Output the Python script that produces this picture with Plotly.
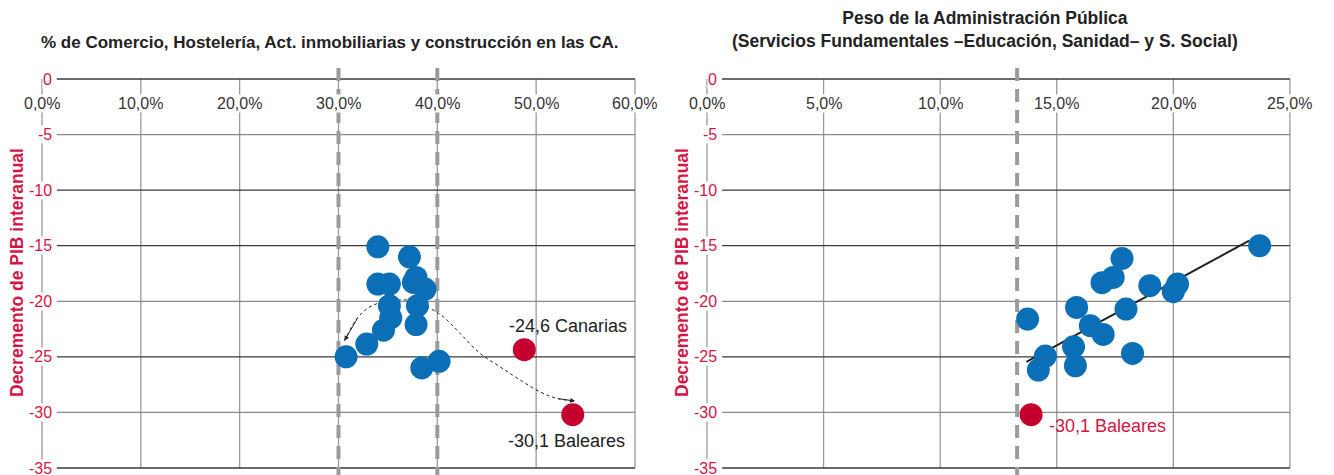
import numpy as np
import plotly.graph_objects as go

# ---------------- data ----------------
# Left chart: share of trade, hospitality, real estate & construction (%) vs GDP drop
left_x = [33.98, 37.18, 33.98, 35.15, 37.85, 37.58, 38.76, 35.15, 37.99,
          35.29, 34.55, 37.85, 32.86, 30.77, 38.43, 40.18]
left_y = [-15.1, -16.0, -18.45, -18.45, -17.85, -18.3, -18.9, -20.4, -20.4,
          -21.5, -22.6, -22.1, -23.85, -25.0, -26.0, -25.4]
left_red_names = ["-24,6 Canarias", "-30,1 Baleares"]
left_red_x = [48.8, 53.7]
left_red_y = [-24.35, -30.2]

# Right chart: weight of public administration (%) vs GDP drop
right_x = [23.7, 17.8, 17.42, 16.94, 18.99, 20.18, 20.0, 15.85, 17.97, 13.75,
           16.44, 16.99, 14.51, 15.72, 18.25, 14.21, 15.8]
right_y = [-15.0, -16.14, -17.85, -18.33, -18.6, -18.45, -19.14, -20.55, -20.7,
           -21.6, -22.2, -22.98, -24.93, -24.1, -24.69, -26.19, -25.8]
right_red_names = ["-30,1 Baleares"]
right_red_x = [13.9]
right_red_y = [-30.2]

left_xticks = [0, 10, 20, 30, 40, 50, 60]
right_xticks = [0, 5, 10, 15, 20, 25]
left_xticklabels = ["0,0%", "10,0%", "20,0%", "30,0%", "40,0%", "50,0%", "60,0%"]
right_xticklabels = ["0,0%", "5,0%", "10,0%", "15,0%", "20,0%", "25,0%"]
yticks = [0, -5, -10, -15, -20, -25, -30, -35]
left_ref_lines = [30, 40]
right_ref_lines = [13.3]
trend_extent = [13.7, 23.25]

# dotted curved arrow (annotation path) in left chart
arrow_path_x = [30.6, 32.0, 33.53, 35.9, 37.58, 39.27, 40.62, 42.3, 44.33,
                46.36, 48.38, 50.4, 52.1, 53.95]
arrow_path_y = [-23.55, -21.4, -20.34, -19.9, -19.96, -20.64, -21.4, -22.89,
                -24.69, -25.9, -27.09, -28.15, -28.74, -28.98]

# ---------------- styles ----------------
BLUE = "#0b6fb7"
RED_DOT = "#c5002e"
RED_TXT = "#d31645"
DARK = "#222222"
GRID_V = "#9a9a9a"
FONT = "Liberation Sans"

W, H = 1334, 475
half = 667 / W
fig = go.Figure()

y_range = [-35.63, 7.108]
fig.update_layout(
    width=W, height=H, margin=dict(l=0, r=0, t=0, b=0),
    paper_bgcolor="white", plot_bgcolor="white", showlegend=False,
    xaxis=dict(domain=[0, half], range=[-4.25, 63.24], visible=False),
    yaxis=dict(domain=[0, 1], range=y_range, visible=False),
    xaxis2=dict(domain=[half, 1], range=[-1.715, 26.89], visible=False),
    yaxis2=dict(domain=[0, 1], range=y_range, visible=False, anchor="x2"),
    font=dict(family=FONT),
)

shapes = []
annotations = []

def grid(xref, yref, xticks, xmax, ref_lines, xstart):
    for t in xticks:
        shapes.append(dict(type="line", xref=xref, yref=yref, x0=t, x1=t, y0=0, y1=-35,
                           line=dict(color=GRID_V, width=1.3), layer="below"))
    for v in yticks:
        col = "#8a8a8a" if v in (-5, -20, -30) else "#3a3a3a"
        shapes.append(dict(type="line", xref=xref, yref=yref, x0=xstart, x1=xmax, y0=v, y1=v,
                           line=dict(color=col, width=1.3), layer="below"))
    for r in ref_lines:
        shapes.append(dict(type="line", xref=xref, yref=yref, x0=r, x1=r, y0=1.0, y1=-36,
                           line=dict(color="#9b9b9b", width=4, dash="13px,8px"), layer="below"))

grid("x", "y", left_xticks, 60, left_ref_lines, 1.5)
grid("x2", "y2", right_xticks, 25, right_ref_lines, 0.65)

def ticklabels(xref, yref, xticks, xlabels):
    for t, lab in zip(xticks, xlabels):
        annotations.append(dict(xref=xref, yref=yref, x=t, y=-2.16, text=lab, showarrow=False,
                                xanchor="center", yanchor="middle", bgcolor="white",
                                borderpad=0, font=dict(size=16, color="#333333", family=FONT)))
    for v in yticks:
        annotations.append(dict(xref=xref, yref=yref, x=0, y=v, text=str(v), showarrow=False,
                                xanchor="right", yanchor="middle", xshift=11, bgcolor="white",
                                borderpad=0, font=dict(size=16, color=RED_TXT, family=FONT)))

ticklabels("x", "y", left_xticks, left_xticklabels)
ticklabels("x2", "y2", right_xticks, right_xticklabels)

# dotted curve
fig.add_trace(go.Scatter(x=arrow_path_x, y=arrow_path_y, mode="lines", xaxis="x", yaxis="y",
                         line=dict(color=DARK, width=1, dash="dot", shape="spline"),
                         hoverinfo="skip"))
annotations.append(dict(xref="x", yref="y", x=arrow_path_x[-1], y=arrow_path_y[-1],
                        axref="x", ayref="y", ax=arrow_path_x[-2], ay=arrow_path_y[-2],
                        text="", showarrow=True, arrowhead=2, arrowsize=1, arrowwidth=1,
                        arrowcolor=DARK, standoff=0))
annotations.append(dict(xref="x", yref="y", x=arrow_path_x[0], y=arrow_path_y[0],
                        axref="x", ayref="y", ax=arrow_path_x[1], ay=arrow_path_y[1],
                        text="", showarrow=True, arrowhead=2, arrowsize=1, arrowwidth=1,
                        arrowcolor=DARK, standoff=0))

# points
fig.add_trace(go.Scatter(x=left_x, y=left_y, mode="markers", xaxis="x", yaxis="y",
                         marker=dict(size=23, color=BLUE, line=dict(width=0))))
fig.add_trace(go.Scatter(x=left_red_x, y=left_red_y, mode="markers", xaxis="x", yaxis="y",
                         marker=dict(size=23, color=RED_DOT, line=dict(width=0))))

# trend line: least squares over all regions in the right chart
all_x = right_x + right_red_x
all_y = right_y + right_red_y
slope, intercept = np.polyfit(all_x, all_y, 1)
tx = np.array(trend_extent)
fig.add_trace(go.Scatter(x=tx, y=slope * tx + intercept, mode="lines", xaxis="x2", yaxis="y2",
                         line=dict(color=DARK, width=2)))
fig.add_trace(go.Scatter(x=right_x, y=right_y, mode="markers", xaxis="x2", yaxis="y2",
                         marker=dict(size=23, color=BLUE, line=dict(width=0))))
fig.add_trace(go.Scatter(x=right_red_x, y=right_red_y, mode="markers", xaxis="x2", yaxis="y2",
                         marker=dict(size=23, color=RED_DOT, line=dict(width=0))))

# point labels
annotations.append(dict(xref="x", yref="y", x=left_red_x[0], y=left_red_y[0], text=left_red_names[0],
                        showarrow=False, xshift=44, yshift=24, font=dict(size=18, color=DARK)))
annotations.append(dict(xref="x", yref="y", x=left_red_x[1], y=left_red_y[1], text=left_red_names[1],
                        showarrow=False, xshift=-6, yshift=-26, font=dict(size=18, color=DARK)))
annotations.append(dict(xref="x2", yref="y2", x=right_red_x[0], y=right_red_y[0], text=right_red_names[0],
                        showarrow=False, xanchor="left", xshift=16, yshift=-11,
                        font=dict(size=18, color=RED_TXT)))

# titles
annotations.append(dict(xref="paper", yref="paper", x=330 / W, y=1 - 42 / H,
                        text="<b>% de Comercio, Hostelería, Act. inmobiliarias y construcción en las CA.</b>",
                        showarrow=False, xanchor="center", yanchor="middle",
                        font=dict(size=17, color=DARK)))
annotations.append(dict(xref="paper", yref="paper", x=985 / W, y=1 - 30 / H,
                        text="<b>Peso de la Administración Pública<br>(Servicios Fundamentales –Educación, Sanidad– y S. Social)</b>",
                        showarrow=False, xanchor="center", yanchor="middle",
                        font=dict(size=17.5, color=DARK)))
for xp in (17, 682):
    annotations.append(dict(xref="paper", yref="paper", x=xp / W, y=1 - 273 / H,
                            text="<b>Decremento de PIB interanual</b>", textangle=-90,
                            showarrow=False, xanchor="center", yanchor="middle",
                            font=dict(size=17.5, color=RED_TXT)))

fig.update_layout(shapes=shapes, annotations=annotations)
fig.write_html("out.html", config={"displayModeBar": False},
               post_script="document.body.style.margin='0';")
